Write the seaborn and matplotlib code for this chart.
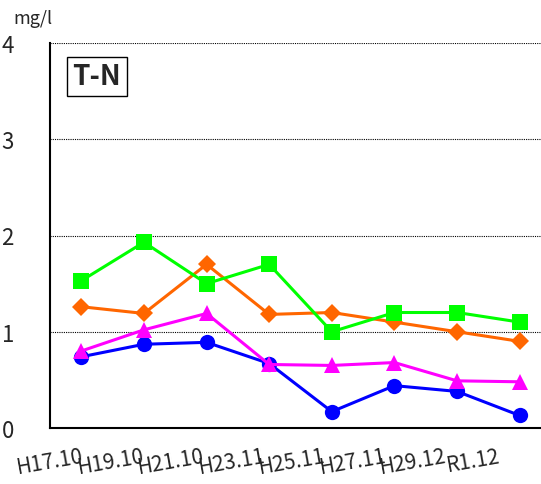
import numpy as np
import pandas as pd
import seaborn as sns
import matplotlib.pyplot as plt

# survey dates and T-N values (mg/l)
dates = ['H17.10', 'H19.10', 'H21.10', 'H23.11', 'H25.11', 'H27.11', 'H29.12', 'R1.12']
blue_vals = [0.74, 0.87, 0.89, 0.67, 0.17, 0.44, 0.38, 0.13]
orange_vals = [1.26, 1.19, 1.70, 1.18, 1.20, 1.10, 1.00, 0.90]
green_vals = [1.53, 1.93, 1.50, 1.70, 1.00, 1.20, 1.20, 1.10]
pink_vals = [0.80, 1.02, 1.19, 0.66, 0.65, 0.68, 0.49, 0.48]

series = {
    'blue': (blue_vals, '#0000ff', 'o', 11),
    'orange': (orange_vals, '#ff6600', 'D', 9),
    'green': (green_vals, '#00ff00', 's', 11),
    'pink': (pink_vals, '#ff00ff', '^', 11),
}

sns.set_style('white')
plt.rcParams['font.family'] = ['Noto Sans CJK JP', 'DejaVu Sans']

fig = plt.figure(figsize=(5.41, 4.85), dpi=100)
# plot area runs off the right edge like the original
ax = fig.add_axes([50 / 541, 56 / 485, 501 / 541, 385 / 485])

xpos = np.arange(len(dates)) + 0.5
for name in ['blue', 'pink', 'orange', 'green']:
    vals, color, marker, ms = series[name]
    df = pd.DataFrame({'x': xpos, 'y': vals})
    sns.lineplot(data=df, x='x', y='y', ax=ax, color=color, marker=marker,
                 markersize=ms, markeredgewidth=0, linewidth=2.2, legend=False)

ax.set_xlim(0, 8)
ax.set_ylim(0, 4)
ax.set_yticks([0, 1, 2, 3, 4])
ax.set_yticklabels(['0', '1', '2', '3', '4'], fontsize=16)
ax.tick_params(axis='y', length=0, pad=26)

# category ticks are spaced a bit tighter than the points in the source chart
tick_pos = np.arange(len(dates)) * 60.5 / 62.6
ax.set_xticks(tick_pos)
ax.set_xticklabels(dates, fontsize=15, rotation=10, ha='center')
ax.tick_params(axis='x', direction='in', length=7, color='#555555', pad=12)

for y in [1, 2, 3, 4]:
    ax.axhline(y, color='black', linestyle=(0, (1, 1)), linewidth=0.8, zorder=0)

for side in ['top', 'right']:
    ax.spines[side].set_visible(False)
ax.spines['left'].set_color('black')
ax.spines['left'].set_linewidth(1.5)
ax.spines['bottom'].set_color('black')
ax.spines['bottom'].set_linewidth(1.5)
ax.set_xlabel('')
ax.set_ylabel('')

fig.text(13 / 541, 1 - 19 / 485, 'mg/l', fontsize=13, va='center', ha='left')
ax.text(0.045, 0.95, 'T-N', transform=ax.transAxes, fontsize=20, fontweight='bold',
        va='top', ha='left',
        bbox=dict(boxstyle='square,pad=0.2', facecolor='white', edgecolor='black', linewidth=1))

fig.savefig('out.png', dpi=100)
